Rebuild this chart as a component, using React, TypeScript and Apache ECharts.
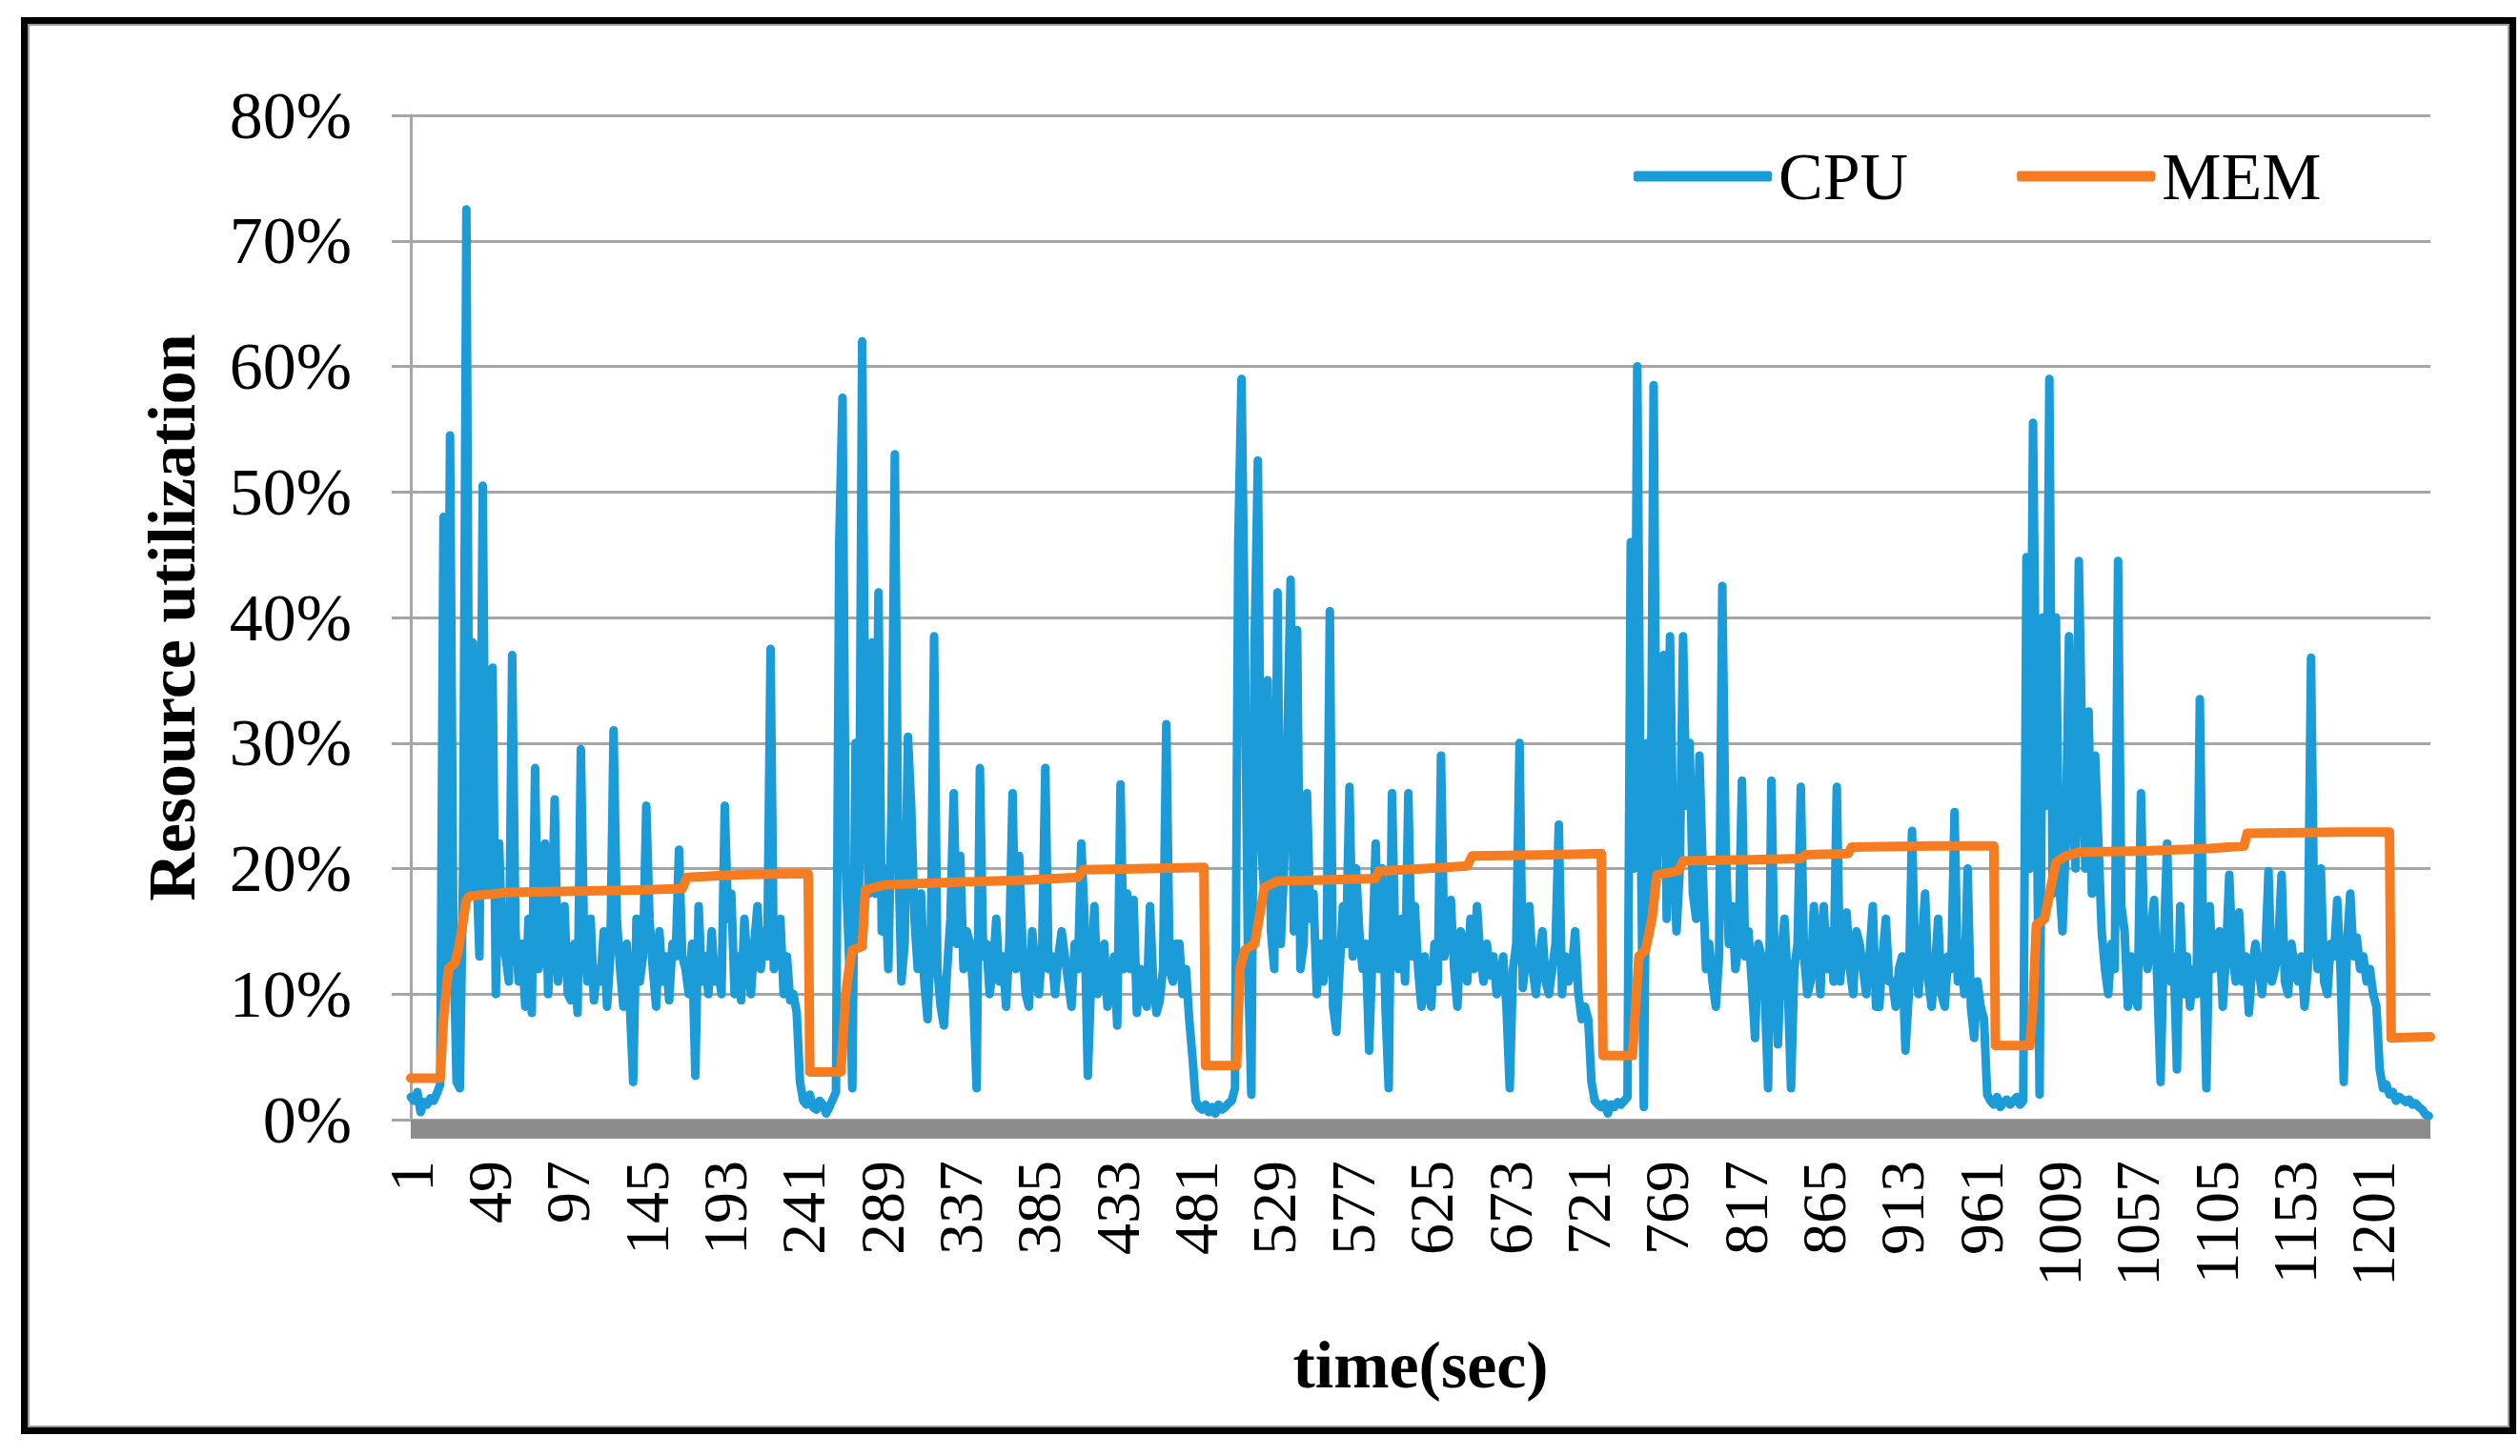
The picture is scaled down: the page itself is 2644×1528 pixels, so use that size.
import React, { useEffect, useRef } from "react";
import * as echarts from "echarts";

// ---- data ----
const CATEGORY_COUNT = 1236; // seconds on the time axis
const TIME_LABELS: string[] = Array.from({ length: CATEGORY_COUNT }, (_, i) => String(i + 1));
const LABEL_EVERY = 48;

const SERIES_NAMES = ["CPU", "MEM"];

// CPU utilization (%), one reading every CPU_STEP seconds
const CPU_STEP = 2;
const CPU: number[] = [
  1.8, 1.5, 2.2, 0.6, 1.4, 1.2, 1.7, 1.5, 2.1, 2.8,
  48, 12, 54.5, 15, 3, 2.5, 20, 72.5, 18, 38,
  21, 13, 50.5, 18, 25, 36, 10, 22, 14, 13,
  11, 37, 15, 11, 14, 9, 16, 8.5, 28, 12,
  13, 22, 10, 15, 25.5, 11, 14, 17, 10, 9.5,
  14, 8.5, 29.5, 14, 11, 16, 9.5, 12, 11, 15,
  9, 13, 31, 16, 12, 9, 14, 9, 3, 16,
  11, 13, 25, 16, 12, 9, 15, 11, 13, 9.5,
  14, 13, 21.5, 13, 12, 10, 14, 3.5, 17, 11,
  13, 10, 15, 11, 12, 10, 25, 16, 18, 10,
  13, 9.5, 16, 12, 10, 14, 17, 12, 15, 13,
  37.5, 12, 14, 16, 10, 13, 9.5, 10, 8.5, 3,
  1.5, 1.2, 2, 1, 0.8, 1.5, 1.2, 0.5, 1, 1.6,
  2.2, 46, 57.5, 20, 13, 2.5, 30, 15, 62, 28,
  18, 38, 18, 42, 15, 20, 12, 25, 53, 22,
  11, 14, 30.5, 25, 16, 12, 18, 11, 8, 14,
  38.5, 12, 9, 7.5, 12, 16, 26, 14, 21, 12,
  15, 14, 10, 2.5, 28, 13, 14, 10, 12, 16,
  11, 13, 9, 14, 26, 12, 21, 14, 10, 9,
  15, 12, 10, 13, 28, 12, 13, 10, 13, 15,
  13, 11, 9, 14, 12, 22, 16, 3.5, 11, 17,
  10, 12, 14, 9, 11, 13, 7.5, 26.7, 12, 18,
  12, 17.5, 8.5, 12, 10, 9, 17, 11, 8.5, 9.5,
  12, 31.5, 12, 11, 14, 14, 10, 12, 8, 5,
  1.5, 1, 0.8, 1.2, 0.6, 1, 0.5, 1.2, 0.8, 1,
  1.3, 1.5, 2.5, 46, 59, 38, 12, 2, 38, 52.5,
  22, 18, 35, 15, 12, 42, 14, 20, 30, 43,
  15, 39, 12, 14, 26, 16, 18, 10, 14, 11,
  13, 40.5, 9, 7, 12, 17, 14, 26.5, 13, 20,
  15, 12, 14, 5.5, 13, 22, 12, 20, 9, 2.5,
  26, 14, 12, 16, 11, 26, 13, 17, 12, 9,
  13, 10, 9, 14, 11, 29, 13, 15, 17.5, 12,
  9, 15, 14, 11, 16, 12, 17, 13, 11, 14,
  11.5, 13, 10, 11, 13, 9, 2.5, 12, 14, 30,
  10.5, 13, 17, 12, 10, 13, 15, 11, 10, 12,
  14, 23.5, 10, 13, 11, 12, 15, 10, 8, 9,
  8, 3, 1.5, 1.2, 1, 1.3, 0.5, 1.2, 1, 1.4,
  1.2, 1.5, 1.8, 46, 20, 60, 25, 1, 30, 18,
  58.5, 20, 30, 37, 16, 38.5, 22, 15, 20, 38.5,
  25, 30, 18, 16, 29, 20, 12, 14, 11, 9,
  13, 42.5, 22, 14, 17, 12, 14, 27, 13, 15,
  11, 6.5, 14, 13, 10, 2.5, 27, 12, 6, 13,
  16, 11, 2.5, 12, 14, 26.5, 13, 10, 11, 17,
  14, 10, 17, 12, 15, 11, 26.5, 11, 14, 16.5,
  12, 10, 15, 14, 12, 10, 13, 17, 9, 9,
  13, 16, 11, 11, 9, 12, 13, 5.5, 10, 23,
  12, 10, 14, 18, 11, 9, 12, 16, 10, 9,
  13, 12, 24.5, 11, 14, 10, 20, 9, 6.5, 11,
  9, 8, 2, 1.5, 1.2, 1.8, 1, 1.4, 1.6, 1.2,
  1.5, 1.8, 1.2, 1.5, 44.8, 20, 55.5, 30, 2, 40,
  25, 59, 18, 40, 19, 15, 22, 38.5, 25, 20,
  44.5, 30, 20, 32.5, 18, 29, 22, 15, 12, 10,
  14, 12, 44.5, 17, 15, 9, 13, 10, 9, 26,
  14, 12, 15, 17.5, 11, 3, 14, 22, 11, 13,
  4, 17, 10, 13, 9, 12, 10, 33.5, 14, 2.5,
  17, 12, 14, 15, 9, 13, 19.5, 13, 11, 16.5,
  11, 13, 8.5, 12, 14, 12, 10, 13, 19.8, 11,
  12, 14, 19.5, 11, 10, 14, 12, 11, 13, 9,
  12, 36.8, 15, 12, 20, 11, 10, 14, 13, 17.5,
  12, 3, 14, 18, 13, 14.5, 12, 13, 11, 12,
  10, 9, 4, 2.5, 2.8, 2, 2.2, 1.5, 1.8, 1.6,
  1.4, 1.6, 1.2, 1.3, 1, 0.8, 0.4, 0.3,
];

// MEM utilization (%): time index (0-based second) where the level changes, and its value
const MEM_T: number[] = [
  0, 18, 20, 23, 27, 29, 31, 34, 36, 60,
  100, 140, 166, 169, 200, 243, 244, 263, 266, 268,
  270, 276, 278, 290, 330, 380, 408, 411, 450, 485,
  486, 505, 507, 510, 516, 522, 530, 590, 592, 620,
  646, 649, 700, 728, 729, 747, 749, 751, 755, 759,
  762, 775, 778, 820, 850, 853, 879, 881, 930, 968,
  969, 990, 992, 994, 999, 1006, 1012, 1020, 1060, 1100,
  1121, 1123, 1180, 1210, 1211, 1235,
];
const MEM_V: number[] = [
  3.3, 3.3, 8, 12, 12.5, 13.5, 15, 17.5, 17.8, 18.1,
  18.2, 18.3, 18.4, 19.3, 19.5, 19.6, 3.8, 3.8, 10, 12,
  13.5, 13.8, 18.3, 18.7, 18.9, 19.1, 19.3, 19.9, 20.0, 20.1,
  4.3, 4.3, 12, 13.5, 14, 18.5, 19, 19.2, 19.8, 20,
  20.2, 21, 21.1, 21.2, 5.1, 5.1, 9, 13, 13.5, 16,
  19.5, 19.8, 20.6, 20.7, 20.8, 21.1, 21.2, 21.7, 21.8, 21.8,
  5.9, 5.9, 9, 15.5, 16, 20.5, 21, 21.3, 21.4, 21.6,
  21.8, 22.8, 22.9, 22.9, 6.5, 6.6,
];

const Y_MIN = 0;
const Y_MAX = 80;
const Y_STEP = 10;

// ---- styles ----
const FONT = "Liberation Serif";
const CPU_COLOR = "#1b9bd7";
const MEM_COLOR = "#f57c20";
const GRID_COLOR = "#a6a6a6";
const BASE_BAR_COLOR = "#8c8c8c";

const FRAME_GRAPHICS = [
  {
    id: "frame-outer",
    type: "rect",
    shape: { x: 25.5, y: 21.5, width: 2611, height: 1480 },
    style: { fill: "none", stroke: "#000000", lineWidth: 7 },
    z: 100,
  },
  {
    id: "frame-inner",
    type: "rect",
    shape: { x: 30, y: 26, width: 2602, height: 1471 },
    style: { fill: "none", stroke: "#9a9a9a", lineWidth: 2 },
    z: 100,
  },
];

export default function App() {
  const ref = useRef<HTMLDivElement>(null);

  useEffect(() => {
    if (!ref.current) return;
    const chart = echarts.init(ref.current, null, { renderer: "svg" });
    chart.setOption({
      animation: false,
      backgroundColor: "#ffffff",
      textStyle: { fontFamily: FONT },
      graphic: FRAME_GRAPHICS,
      legend: {
        data: SERIES_NAMES,
        left: 1714,
        top: 150,
        padding: 0,
        icon: "roundRect",
        itemWidth: 145,
        itemHeight: 11,
        itemGap: 114,
        textStyle: { fontSize: 70, fontFamily: FONT, color: "#000000", padding: [0, 0, 0, 2] },
      },
      grid: { left: 431, right: 94, top: 121, bottom: 353 },
      xAxis: {
        type: "category",
        data: TIME_LABELS,
        boundaryGap: false,
        offset: 10,
        axisLine: { show: false },
        axisTick: { show: false },
        splitLine: { show: false },
        axisLabel: {
          interval: LABEL_EVERY - 1,
          rotate: 90,
          fontSize: 66,
          fontFamily: FONT,
          color: "#000000",
          margin: 33,
        },
        name: "time(sec)",
        nameLocation: "middle",
        nameGap: 212,
        nameTextStyle: { fontSize: 70, fontWeight: "bold", fontFamily: FONT, color: "#000000" },
      },
      yAxis: {
        type: "value",
        min: Y_MIN,
        max: Y_MAX,
        interval: Y_STEP,
        axisLine: { show: true, lineStyle: { color: GRID_COLOR, width: 3 } },
        axisTick: { show: true, length: 20, lineStyle: { color: GRID_COLOR, width: 3 } },
        splitLine: { show: true, lineStyle: { color: GRID_COLOR, width: 3 } },
        axisLabel: {
          formatter: "{value}%",
          fontSize: 70,
          fontFamily: FONT,
          color: "#000000",
          margin: 62,
        },
        name: "Resource utilization",
        nameLocation: "middle",
        nameGap: 216,
        nameTextStyle: { fontSize: 70, fontWeight: "bold", fontFamily: FONT, color: "#000000" },
      },
      series: [
        {
          name: SERIES_NAMES[0],
          type: "line",
          data: CPU.map((v, k) => [k * CPU_STEP, v]),
          showSymbol: false,
          symbol: "none",
          color: CPU_COLOR,
          itemStyle: { color: CPU_COLOR },
          lineStyle: { color: CPU_COLOR, width: 9, join: "round", cap: "round" },
          z: 2,
        },
        {
          name: SERIES_NAMES[1],
          type: "line",
          data: MEM_T.map((t, i) => [t, MEM_V[i]]),
          showSymbol: false,
          symbol: "none",
          color: MEM_COLOR,
          itemStyle: { color: MEM_COLOR },
          lineStyle: { color: MEM_COLOR, width: 10, join: "round", cap: "round" },
          z: 3,
        },
      ],
    });

    // thick grey base bar under the 0% line, placed through the chart's own scales
    const left = chart.convertToPixel({ gridIndex: 0 }, [0, Y_MIN]) as number[];
    const right = chart.convertToPixel({ gridIndex: 0 }, [CATEGORY_COUNT - 1, Y_MIN]) as number[];
    if (left && right) {
      chart.setOption({
        graphic: [
          ...FRAME_GRAPHICS,
          {
            id: "base-bar",
            type: "rect",
            shape: { x: left[0], y: left[1], width: right[0] - left[0], height: 20 },
            style: { fill: BASE_BAR_COLOR },
            z: 1,
          },
        ],
      });
    }
    return () => chart.dispose();
  }, []);

  return (
    <div
      ref={ref}
      style={{ position: "absolute", left: 0, top: 0, width: 2644, height: 1528, background: "#ffffff" }}
    />
  );
}
